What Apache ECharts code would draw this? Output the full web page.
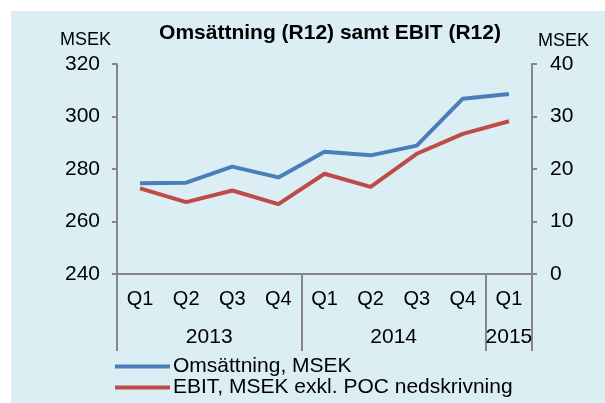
<!DOCTYPE html>
<html><head><meta charset="utf-8">
<script src="https://cdn.jsdelivr.net/npm/echarts@6/dist/echarts.min.js"></script>
<style>html,body{margin:0;padding:0;background:#fff}#c{width:605px;height:403px}</style>
</head><body><div id="c"></div>
<script>
const quarters = ['Q1','Q2','Q3','Q4','Q1','Q2','Q3','Q4','Q1'];
const years = ['2013','2014','2015'];
const yearCounts = [4,4,1];
const seriesNames = ['Omsättning, MSEK','EBIT, MSEK exkl. POC nedskrivning'];
const omsattning = [274.6, 274.8, 280.9, 276.8, 286.6, 285.2, 288.9, 306.8, 308.6];
const ebit = [16.3, 13.7, 15.9, 13.3, 19.1, 16.6, 22.9, 26.7, 29.1];
const leftTicks = {min:240, max:320, interval:20};
const rightTicks = {min:0, max:40, interval:10};

const bounds = [0]; yearCounts.forEach(c => bounds.push(bounds[bounds.length-1] + c));
const mids = yearCounts.map((c,i) => bounds[i] + c/2);
const font = 'Liberation Sans, Arial, sans-serif';
const axisColor = '#868686';

const legendBase = {orient:'vertical', left:115, padding:0, itemWidth:55, itemHeight:4, itemGap:0,
    icon:'rect', textStyle:{fontFamily:font, fontSize:21, color:'#000', padding:[0,0,0,-2]}};

const chart = echarts.init(document.getElementById('c'), null, {renderer:'canvas'});
chart.setOption({
  animation:false,
  backgroundColor:'#fff',
  graphic:[
    {type:'rect', z:-10, shape:{x:11,y:11,width:594,height:392}, style:{fill:'#DAEEF3'}},
    {type:'text', left:60, top:31, style:{text:'MSEK', font:'18px '+font, fill:'#000'}},
    {type:'text', left:538, top:32, style:{text:'MSEK', font:'18px '+font, fill:'#000'}}
  ],
  title:{text:'Omsättning (R12) samt EBIT (R12)', left:325, textAlign:'center', top:18,
    textStyle:{fontFamily:font, fontWeight:'bold', fontSize:21, color:'#000'}},
  grid:{left:117, right:73, top:64, bottom:129},
  legend:[
    Object.assign({}, legendBase, {top:356, data:[seriesNames[0]]}),
    Object.assign({}, legendBase, {top:377, data:[seriesNames[1]]})
  ],
  xAxis:[
    {type:'category', data:quarters, boundaryGap:true, position:'bottom',
     axisLine:{lineStyle:{color:axisColor, width:2}},
     axisTick:{interval:0, length:39, lineStyle:{color:axisColor, width:2}},
     axisLabel:{interval:0, margin:15, fontFamily:font, fontSize:20, color:'#000'}},
    {type:'value', min:0, max:quarters.length, position:'bottom',
     axisLine:{show:false}, splitLine:{show:false},
     axisTick:{show:true, customValues:bounds, length:77, lineStyle:{color:axisColor, width:2}},
     axisLabel:{customValues:mids, margin:53, fontFamily:font, fontSize:21, color:'#000',
       formatter:v => { const i = mids.findIndex(m => Math.abs(m-v)<1e-6); return i>=0 ? years[i] : ''; }}}
  ],
  yAxis:[
    {type:'value', min:leftTicks.min, max:leftTicks.max, interval:leftTicks.interval, position:'left',
     axisLine:{show:true, lineStyle:{color:axisColor, width:2}},
     axisTick:{show:true, length:5, lineStyle:{color:axisColor, width:2}},
     splitLine:{show:false},
     axisLabel:{margin:17, fontFamily:font, fontSize:21, color:'#000'}},
    {type:'value', min:rightTicks.min, max:rightTicks.max, interval:rightTicks.interval, position:'right',
     axisLine:{show:true, lineStyle:{color:axisColor, width:2}},
     axisTick:{show:true, length:5, lineStyle:{color:axisColor, width:2}},
     splitLine:{show:false},
     axisLabel:{margin:18, fontFamily:font, fontSize:21, color:'#000'}}
  ],
  series:[
    {name:seriesNames[0], type:'line', xAxisIndex:0, yAxisIndex:0, data:omsattning,
     symbol:'none', lineStyle:{color:'#4A7EBB', width:4}, itemStyle:{color:'#4A7EBB'}},
    {name:seriesNames[1], type:'line', xAxisIndex:0, yAxisIndex:1, data:ebit,
     symbol:'none', lineStyle:{color:'#BE4B48', width:4}, itemStyle:{color:'#BE4B48'}}
  ]
});
</script></body></html>
